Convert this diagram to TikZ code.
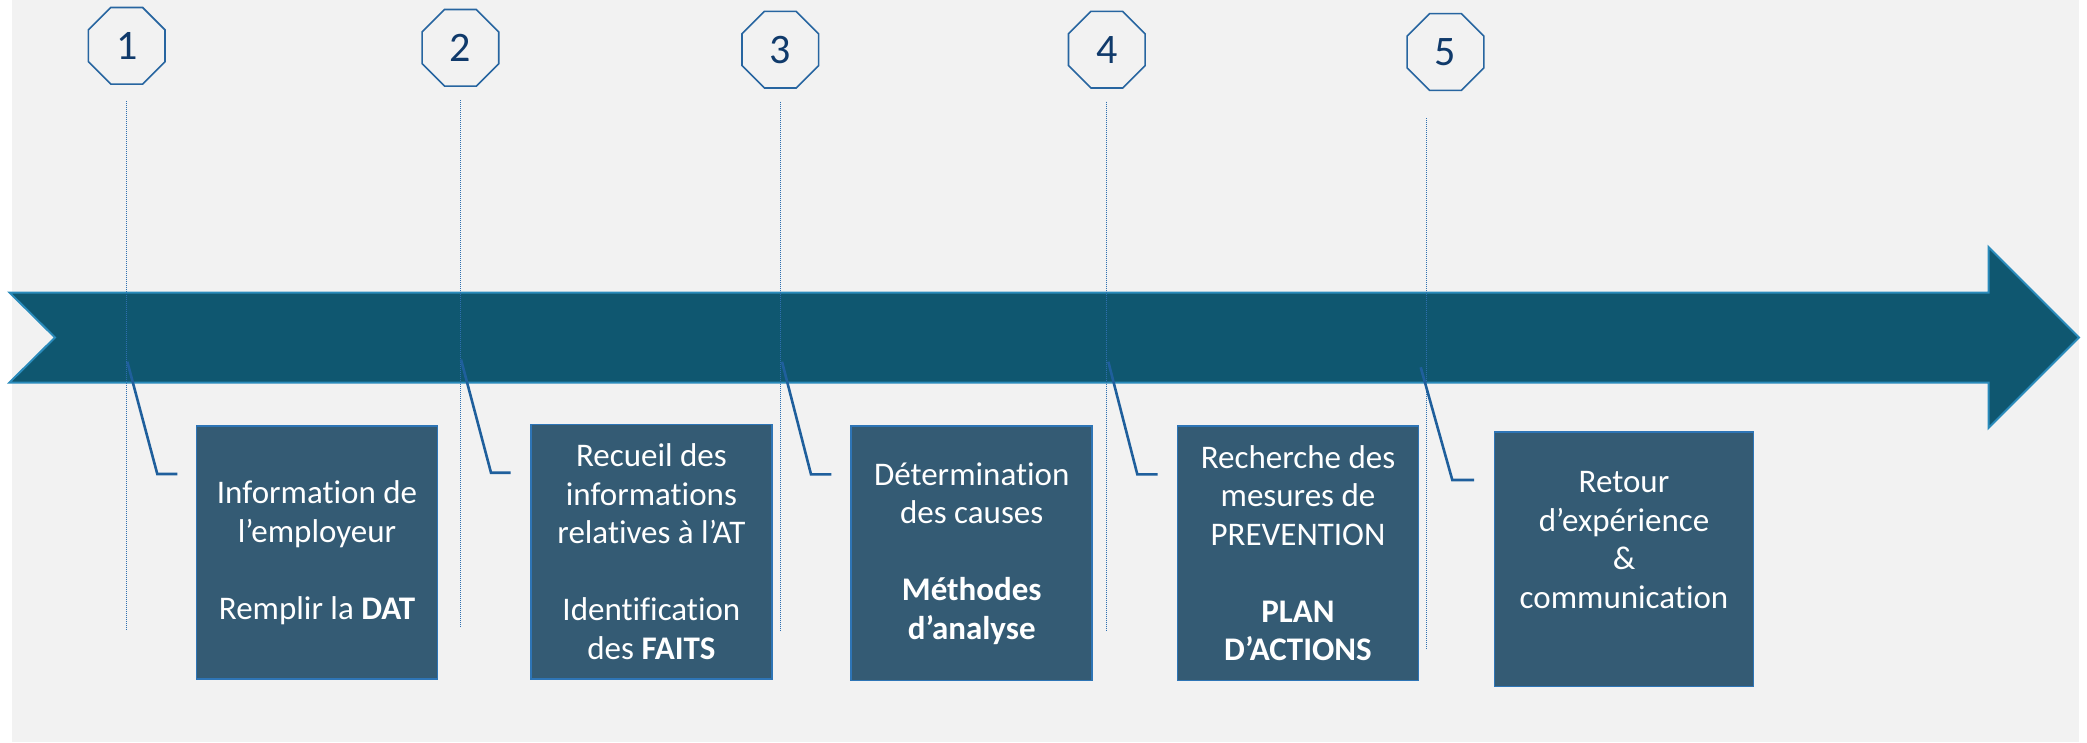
\documentclass[tikz,border=0pt]{standalone}
\usepackage{fontspec}
\setmainfont{Carlito}[Ligatures={NoCommon}]
\usetikzlibrary{shapes.geometric}
\definecolor{bgcol}{HTML}{F2F2F2}
\definecolor{arrowfill}{HTML}{0F5770}
\definecolor{arrowline}{HTML}{2A8BBB}
\definecolor{boxfill}{HTML}{345B74}
\definecolor{boxline}{HTML}{2E75B6}
\definecolor{octline}{HTML}{2765A0}
\definecolor{numcol}{HTML}{103A6B}
\definecolor{guidecol}{HTML}{2E6FB0}
\definecolor{leadcol}{HTML}{1F5F9C}
\tikzset{
  stepbox/.style={draw=boxline, fill=boxfill, line width=1.5pt, minimum width=241, minimum height=254.7,
    text=white, align=center, font=\fontsize{33}{38.5}\selectfont, inner sep=0pt},
  octa/.style={regular polygon, regular polygon sides=8, draw=octline, line width=1.6pt,
    minimum size=83, inner sep=0pt, text=numcol, font=\fontsize{42}{42}\selectfont},
  guide/.style={draw=guidecol, line width=1pt, dash pattern=on 1pt off 1pt},
  leader/.style={draw=leadcol, line width=2.6pt, line join=miter},
}
\begin{document}
\begin{tikzpicture}[x=1pt,y=-1pt]
\useasboundingbox (0,0) rectangle (2087,742);
\fill[white] (0,0) rectangle (2087,742);
\fill[bgcol] (12,0) rectangle (2079,742);
% main arrow
\draw[fill=arrowfill, draw=arrowline, line width=2pt, line join=miter]
  (9.5,292.5) -- (1988.5,292.5) -- (1988.5,247) -- (2079,337.5) -- (1988.5,428)
  -- (1988.5,382.5) -- (9.5,382.5) -- (55,337.5) -- cycle;
% guide coordinates
\coordinate (g1a) at (126.7,101); \coordinate (g1b) at (126.7,630.7);
\coordinate (g2a) at (460.4,100); \coordinate (g2b) at (460.4,628);
\coordinate (g3a) at (780.4,101.7); \coordinate (g3b) at (780.4,631.7);
\coordinate (g4a) at (1106.7,101.7); \coordinate (g4b) at (1106.7,631);
\coordinate (g5a) at (1426.5,118); \coordinate (g5b) at (1426.5,649);
\foreach \i in {1,...,5} \draw[guide] (g\i a) -- (g\i b);
% leader coordinates
\coordinate (s1) at (127.3,361.7); \coordinate (k1) at (157.3,474); \coordinate (e1) at (177.3,474);
\coordinate (s2) at (461,359.5); \coordinate (k2) at (491,472.7); \coordinate (e2) at (510.7,472.7);
\coordinate (s3) at (782,361.7); \coordinate (k3) at (811,474.3); \coordinate (e3) at (831.4,474.3);
\coordinate (s4) at (1108.3,361.7); \coordinate (k4) at (1137.3,474.3); \coordinate (e4) at (1157.7,474.3);
\coordinate (s5) at (1420.7,367.3); \coordinate (k5) at (1452.3,480); \coordinate (e5) at (1474,480);
\foreach \i in {1,...,5} \draw[leader] (s\i) -- (k\i) -- (e\i);
% boxes
\node[stepbox, minimum height=253] (b1) at (317,552.5)
  {Information de\\l’employeur\\[38.5pt]Remplir la \textbf{DAT}};
\node[stepbox] (b2) at (651.4,551.7)
  {Recueil des\\informations\\relatives à l’AT\\[38.5pt]Identification\\des \textbf{FAITS}};
\node[stepbox] (b3) at (971.7,553.3)
  {Détermination\\des causes\\[38.5pt]\textbf{Méthodes}\\\textbf{d’analyse}};
\node[stepbox] (b4) at (1298,553.3)
  {Recherche des\\mesures de\\PREVENTION\\[38.5pt]\textbf{PLAN}\\\textbf{D’ACTIONS}};
\node[stepbox, minimum width=258.6] (b5) at (1624,559.3)
  {Retour\\d’expérience\\\&\\communication\\\mbox{}};
% octagons
\node[octa] (o1) at (126.7,45.8) {1};
\node[octa] (o2) at (460.4,47.8) {2};
\node[octa] (o3) at (780.3,49.7) {3};
\node[octa] (o4) at (1106.8,49.7) {4};
\node[octa] (o5) at (1445.5,52) {5};
\end{tikzpicture}
\end{document}
